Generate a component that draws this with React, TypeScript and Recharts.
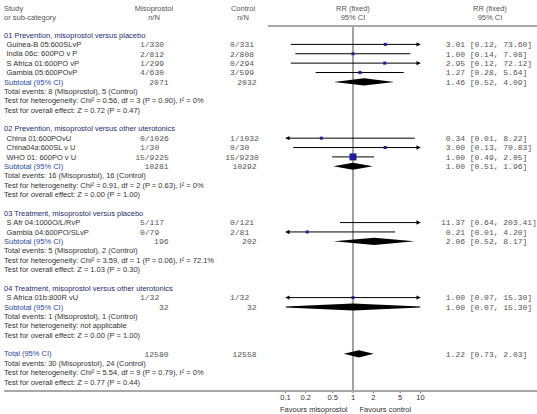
import React from "react";
import { ScatterChart, Scatter, XAxis, YAxis, ReferenceLine } from "recharts";

// subgroups and studies
const groupTitles = [
  "01 Prevention, misoprostol versus placebo",
  "02 Prevention, misoprostol versus other uterotonics",
  "03 Treatment, misoprostol versus placebo",
  "04 Treatment, misoprostol versus other uterotonics",
];
const studyNames = [
  "Guinea-B 05:600SLvP",
  "India 06c: 600PO v P",
  "S Africa 01:600PO vP",
  "Gambia 05:600POvP",
  "China 01:600POvU",
  "China04a:600SL v U",
  "WHO 01: 600PO v U",
  "S Afr 04:1000O/L/RvP",
  "Gambia 04:600PO/SLvP",
  "S Africa 01b:800R vU",
];
const studyGroup = [0, 0, 0, 0, 1, 1, 1, 2, 2, 3];
const misoEvents = [1, 2, 1, 4, 0, 1, 15, 5, 0, 1];
const misoTotal = [330, 812, 299, 630, 1026, 30, 9225, 117, 79, 32];
const ctrlEvents = [0, 2, 0, 3, 1, 0, 15, 0, 2, 1];
const ctrlTotal = [331, 808, 294, 599, 1032, 30, 9230, 121, 81, 32];
const studyRR = [3.01, 1.0, 2.95, 1.27, 0.34, 3.0, 1.0, 11.37, 0.21, 1.0];
const studyLow = [0.12, 0.14, 0.12, 0.28, 0.01, 0.13, 0.49, 0.64, 0.01, 0.07];
const studyHigh = [73.6, 7.08, 72.12, 5.64, 8.22, 70.83, 2.05, 203.41, 4.2, 15.3];
const studyWeight = [0, 8.0, 0, 12.3, 4.0, 0, 59.9, 0, 7.9, 4.0];

const subMisoTotal = [2071, 10281, 196, 32];
const subCtrlTotal = [2032, 10292, 202, 32];
const subMisoEvents = [8, 16, 5, 1];
const subCtrlEvents = [5, 16, 2, 1];
const subRR = [1.46, 1.0, 2.06, 1.0];
const subLow = [0.52, 0.51, 0.52, 0.07];
const subHigh = [4.09, 1.96, 8.17, 15.3];
const subHet = [
  "Chi² = 0.56, df = 3 (P = 0.90), I² = 0%",
  "Chi² = 0.91, df = 2 (P = 0.63), I² = 0%",
  "Chi² = 3.59, df = 1 (P = 0.06), I² = 72.1%",
  "not applicable",
];
const subZ = ["Z = 0.72 (P = 0.47)", "Z = 0.00 (P = 1.00)", "Z = 1.03 (P = 0.30)", "Z = 0.00 (P = 1.00)"];

const totalMiso = 12580;
const totalCtrl = 12558;
const totalMisoEvents = 30;
const totalCtrlEvents = 24;
const totalRR = 1.22;
const totalLow = 0.73;
const totalHigh = 2.03;
const totalHet = "Chi² = 5.54, df = 9 (P = 0.79), I² = 0%";
const totalZ = "Z = 0.77 (P = 0.44)";

const xTicks = [0.1, 0.2, 0.5, 1, 2, 5, 10];

const SANS = "'Liberation Sans', Arial, sans-serif";
const MONO = "'Liberation Mono', 'Courier New', monospace";
const LO = 0.1;
const HI = 10;

// table rows
type Row = { kind: string; label: string; i?: number; g?: number };
const rows: Row[] = [];
const studyRow: number[] = [];
const summaries: { row: number; est: number; lo: number; hi: number }[] = [];
groupTitles.forEach((title, g) => {
  rows.push({ kind: "group", label: title });
  studyNames.forEach((name, i) => {
    if (studyGroup[i] !== g) return;
    studyRow[i] = rows.length;
    rows.push({ kind: "study", label: name, i });
  });
  summaries.push({ row: rows.length, est: subRR[g], lo: subLow[g], hi: subHigh[g] });
  rows.push({ kind: "subtotal", label: "Subtotal (95% CI)", g });
  rows.push({ kind: "note", label: `Total events: ${subMisoEvents[g]} (Misoprostol), ${subCtrlEvents[g]} (Control)` });
  rows.push({ kind: "note", label: `Test for heterogeneity: ${subHet[g]}` });
  rows.push({ kind: "note", label: `Test for overall effect: ${subZ[g]}` });
  rows.push({ kind: "blank", label: "" });
});
summaries.push({ row: rows.length, est: totalRR, lo: totalLow, hi: totalHigh });
rows.push({ kind: "total", label: "Total (95% CI)" });
rows.push({ kind: "note", label: `Total events: ${totalMisoEvents} (Misoprostol), ${totalCtrlEvents} (Control)` });
rows.push({ kind: "note", label: `Test for heterogeneity: ${totalHet}` });
rows.push({ kind: "note", label: `Test for overall effect: ${totalZ}` });
const rowTicks = rows.map((_, i) => i);

const ciData = studyNames.map((_, i) => [
  { x: Math.max(studyLow[i], LO), y: studyRow[i], arrow: studyLow[i] < LO ? "left" : "" },
  { x: Math.min(studyHigh[i], HI), y: studyRow[i], arrow: studyHigh[i] > HI ? "right" : "" },
]);
const squareData = studyNames.map((_, i) => ({ x: studyRR[i], y: studyRow[i], w: studyWeight[i] }));

function diamond(est: number, lo: number, hi: number, row: number) {
  const h = 0.38;
  const L = Math.log10;
  const pts: { x: number; y: number }[] = [];
  if (lo < LO) {
    const t = (h * (L(LO) - L(lo))) / (L(est) - L(lo));
    pts.push({ x: LO, y: row + t }, { x: LO, y: row - t });
  } else pts.push({ x: lo, y: row });
  pts.push({ x: est, y: row - h });
  if (hi > HI) {
    const t = (h * (L(hi) - L(HI))) / (L(hi) - L(est));
    pts.push({ x: HI, y: row - t }, { x: HI, y: row + t });
  } else pts.push({ x: hi, y: row });
  pts.push({ x: est, y: row + h });
  return pts;
}

const fmtCI = (lo: number, hi: number) => `[${lo.toFixed(2)}, ${hi.toFixed(2)}]`;

const ArrowHead = (p: any) => {
  const { cx, cy, payload } = p;
  if (!payload.arrow) return <g />;
  const d = payload.arrow === "right" ? 1 : -1;
  return <polygon points={`${cx},${cy} ${cx - d * 4},${cy - 2.2} ${cx - d * 4},${cy + 2.2}`} fill="#000" />;
};

const Square = (p: any) => {
  const s = Math.max(3, 0.9 * Math.sqrt(p.payload.w));
  return <rect x={p.cx - s / 2} y={p.cy - s / 2} width={s} height={s} fill="#1c1c9c" />;
};

const diamondLine = (p: any) => (
  <polygon points={p.points.map((q: any) => `${q.x},${q.y}`).join(" ")} fill="#000" stroke="none" />
);

const Nothing = () => <g />;

function RowTick(props: any) {
  const { y, payload } = props;
  const row = rows[payload.value];
  if (!row || row.kind === "blank") return <g />;
  const sans = { fontFamily: SANS, fontSize: 7.5, dy: "0.35em" };
  const mono = { fontFamily: MONO, fontSize: 8, dy: "0.35em", fill: "#555" };
  if (row.kind === "note") return <text x={4} y={y} fill="#333" {...sans}>{row.label}</text>;
  if (row.kind === "group") return <text x={4} y={y} fill="#1e2c6e" {...sans}>{row.label}</text>;
  if (row.kind === "study") {
    const i = row.i as number;
    return (
      <g>
        <text x={6.5} y={y} fill="#333" {...sans}>{row.label}</text>
        <text x={144.8} y={y} textAnchor="end" {...mono}>{misoEvents[i]}</text>
        <text x={144.8} y={y} {...mono}>/{misoTotal[i]}</text>
        <text x={234.8} y={y} textAnchor="end" {...mono}>{ctrlEvents[i]}</text>
        <text x={234.8} y={y} {...mono}>/{ctrlTotal[i]}</text>
        <text x={465} y={y} textAnchor="end" {...mono}>{studyRR[i].toFixed(2)}</text>
        <text x={469.7} y={y} {...mono}>{fmtCI(studyLow[i], studyHigh[i])}</text>
      </g>
    );
  }
  const isTotal = row.kind === "total";
  const g = row.g as number;
  const m = isTotal ? totalMiso : subMisoTotal[g];
  const c = isTotal ? totalCtrl : subCtrlTotal[g];
  const est = isTotal ? totalRR : subRR[g];
  const lo = isTotal ? totalLow : subLow[g];
  const hi = isTotal ? totalHigh : subHigh[g];
  return (
    <g>
      <text x={4} y={y} fill="#2a48a8" {...sans}>{row.label}</text>
      <text x={168.5} y={y} textAnchor="end" {...mono}>{m}</text>
      <text x={256.5} y={y} textAnchor="end" {...mono}>{c}</text>
      <text x={465} y={y} textAnchor="end" {...mono}>{est.toFixed(2)}</text>
      <text x={469.7} y={y} {...mono}>{fmtCI(lo, hi)}</text>
    </g>
  );
}

export default function App() {
  const head = { fontFamily: SANS, fontSize: 7.5, fill: "#555", dy: "0.35em" };
  return (
    <div style={{ position: "absolute", left: 0, top: 0, width: 537, height: 414, background: "#fff" }}>
      <ScatterChart width={537} height={414} margin={{ top: 26, right: 116.5, bottom: 3, left: 284.5 }}>
        <XAxis
          type="number"
          dataKey="x"
          scale="log"
          domain={[0.1, 10]}
          ticks={xTicks}
          interval={0}
          allowDataOverflow
          axisLine={false}
          tickLine={{ stroke: "#666" }}
          tickSize={2}
          height={20}
          tick={{ fontSize: 7.5, fill: "#333", fontFamily: SANS }}
        />
        <YAxis
          type="number"
          dataKey="y"
          domain={[-0.96, 37.96]}
          reversed
          allowDataOverflow
          ticks={rowTicks}
          interval={0}
          width={1}
          axisLine={false}
          tickLine={false}
          tick={<RowTick />}
        />
        <ReferenceLine x={1} stroke="#444" strokeWidth={1} />
        {ciData.map((d, i) => (
          <Scatter key={`ci${i}`} data={d} line={{ stroke: "#000", strokeWidth: 1 }} shape={ArrowHead} isAnimationActive={false} />
        ))}
        <Scatter data={squareData} shape={Square} isAnimationActive={false} />
        {summaries.map((s, i) => (
          <Scatter key={`d${i}`} data={diamond(s.est, s.lo, s.hi, s.row)} line={diamondLine} shape={Nothing} isAnimationActive={false} />
        ))}
      </ScatterChart>
      <svg width={537} height={414} style={{ position: "absolute", left: 0, top: 0, pointerEvents: "none" }}>
        <rect x={268} y={25} width={269} height={2} fill="#a8a8a8" />
        <rect x={4} y={390} width={533} height={2} fill="#a8a8a8" />
        <text x={4} y={8} {...head}>Study</text>
        <text x={4} y={17} {...head}>or sub-category</text>
        <text x={154} y={8} textAnchor="middle" {...head}>Misoprostol</text>
        <text x={154} y={17} textAnchor="middle" {...head}>n/N</text>
        <text x={243} y={8} textAnchor="middle" {...head}>Control</text>
        <text x={243} y={17} textAnchor="middle" {...head}>n/N</text>
        <text x={353} y={8} textAnchor="middle" {...head}>RR (fixed)</text>
        <text x={353} y={17} textAnchor="middle" {...head}>95% CI</text>
        <text x={490} y={8} textAnchor="middle" {...head}>RR (fixed)</text>
        <text x={490} y={17} textAnchor="middle" {...head}>95% CI</text>
        <text x={347.5} y={409} textAnchor="end" {...head} fill="#333">Favours misoprostol</text>
        <text x={359.5} y={409} {...head} fill="#333">Favours control</text>
      </svg>
    </div>
  );
}
